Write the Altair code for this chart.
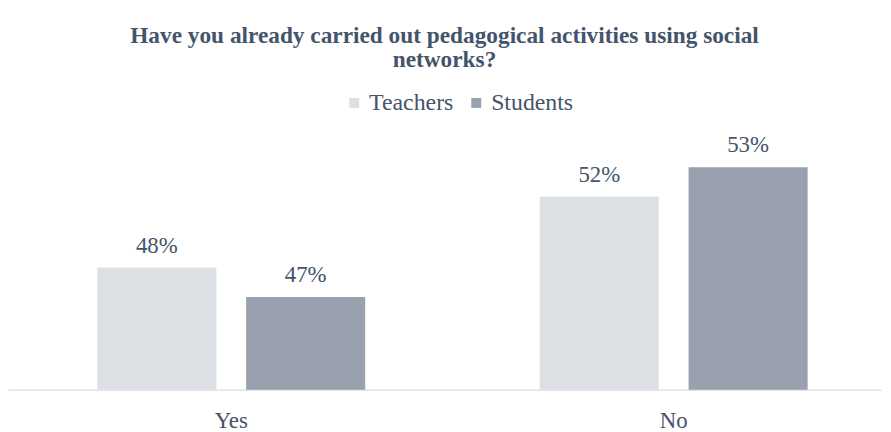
import altair as alt
import pandas as pd

categories = ["Yes", "No"]
series = ["Teachers", "Students"]
teachers = [48.2, 51.8]
students = [46.7, 53.3]
teacher_labels = ["48%", "52%"]
student_labels = ["47%", "53%"]
colors = ["#dcdfe4", "#98a1ad"]

title_lines = ["Have you already carried out pedagogical activities using social", "networks?"]

rows = []
for i, c in enumerate(categories):
    rows.append({"answer": c, "group": "Teachers", "value": teachers[i], "label": teacher_labels[i]})
    rows.append({"answer": c, "group": "Students", "value": students[i], "label": student_labels[i]})
df = pd.DataFrame(rows)

FONT = "Liberation Serif"
TXT = "#44546a"

base = alt.Chart(df).encode(
    x=alt.X("answer:N", sort=categories,
            scale=alt.Scale(paddingInner=0.3946, paddingOuter=0.1839, align=0.549),
            axis=alt.Axis(title=None, ticks=False, domainColor="#d9dce1", domainWidth=1.2,
                          labelFont=FONT, labelFontSize=23, labelColor=TXT, labelPadding=20,
                          labelAngle=0, grid=False)),
    xOffset=alt.XOffset("group:N", sort=series, scale=alt.Scale(paddingInner=0.2, paddingOuter=0)),
    y=alt.Y("value:Q", scale=alt.Scale(domain=[42, 55.15], zero=False, nice=False), axis=None),
)

bars = base.mark_bar().encode(
    y2=alt.datum(42),
    color=alt.Color("group:N", sort=series,
                    scale=alt.Scale(domain=series, range=colors),
                    legend=alt.Legend(title=None, orient="none", direction="horizontal",
                                      legendX=337, legendY=-40, symbolType="square",
                                      symbolSize=100, symbolStrokeWidth=0, labelFont=FONT,
                                      labelFontSize=24, labelColor=TXT, labelOffset=3,
                                      columnPadding=11)),
)

text = base.mark_text(baseline="alphabetic", dy=-15, font=FONT, fontSize=23, color=TXT).encode(
    text="label:N"
)

chart = (bars + text).properties(
    width=880,
    height=261,
    padding={"left": 0, "top": 122, "right": 2, "bottom": 41},
    autosize=alt.AutoSizeParams(type="none"),
    title=alt.TitleParams(text=title_lines, font=FONT, fontSize=23.5, fontWeight="bold",
                          color=TXT, anchor="middle", lineHeight=24, offset=20),
).configure_view(stroke=None)

chart.save("out.html", embed_options={"renderer": "svg", "actions": False})
